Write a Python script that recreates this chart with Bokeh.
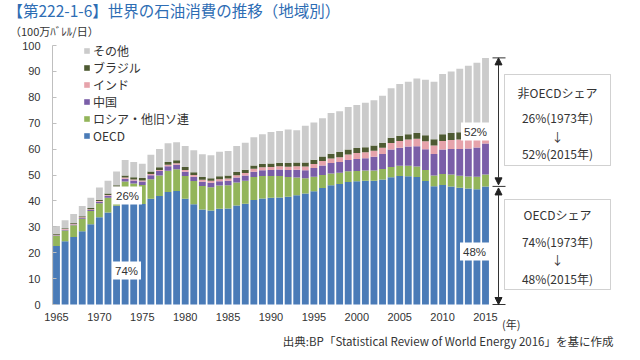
from bokeh.plotting import figure
from bokeh.models import (ColumnDataSource, Legend, LegendItem, Label, BoxAnnotation,
                          Arrow, NormalHead, FixedTicker, Range1d, LinearAxis, Title)
from bokeh.embed import file_html
from bokeh.resources import INLINE

years = list(range(1965, 2016))
oecd = [22.6, 24.4, 26.1, 28.3, 31.0, 33.7, 35.5, 38.1, 41.0, 39.8,
        38.8, 40.8, 41.9, 43.4, 43.8, 40.8, 38.7, 36.7, 36.3, 37.0,
        37.1, 38.2, 38.9, 40.3, 40.9, 41.2, 41.3, 41.6, 42.2, 42.9,
        43.7, 45.0, 46.0, 46.5, 47.3, 47.6, 47.8, 47.8, 48.3, 49.1,
        49.6, 49.5, 49.2, 47.7, 45.7, 46.1, 45.6, 45.1, 44.8, 44.5, 45.6]
fsu = [3.9, 4.2, 4.5, 4.8, 5.1, 5.4, 5.7, 6.1, 6.5, 6.9,
       7.3, 7.6, 7.9, 8.2, 8.4, 8.8, 9.0, 9.1, 9.0, 8.9,
       8.9, 8.9, 8.9, 8.9, 8.7, 8.4, 8.3, 7.6, 6.8, 5.8,
       5.6, 5.0, 4.6, 4.4, 4.1, 3.9, 3.9, 3.9, 4.0, 4.0,
       4.0, 4.1, 4.1, 4.2, 4.1, 4.3, 4.6, 4.6, 4.6, 4.8, 4.6]
china = [0.22, 0.27, 0.27, 0.3, 0.4, 0.55, 0.75, 0.85, 1.1, 1.2,
         1.4, 1.5, 1.7, 1.8, 1.8, 1.7, 1.6, 1.6, 1.7, 1.7,
         1.8, 1.9, 2.0, 2.1, 2.2, 2.3, 2.5, 2.7, 3.0, 3.1,
         3.4, 3.7, 4.0, 4.1, 4.4, 4.7, 4.8, 5.3, 5.8, 6.7,
         6.9, 7.4, 7.8, 8.0, 8.3, 9.4, 9.8, 10.3, 10.8, 11.3, 12.0]
india = [0.25, 0.26, 0.27, 0.29, 0.31, 0.33, 0.36, 0.38, 0.4, 0.4,
         0.42, 0.45, 0.47, 0.51, 0.56, 0.64, 0.67, 0.72, 0.75, 0.8,
         0.86, 0.93, 0.99, 1.07, 1.15, 1.21, 1.25, 1.31, 1.35, 1.45,
         1.58, 1.7, 1.8, 1.9, 2.1, 2.26, 2.28, 2.37, 2.43, 2.6,
         2.6, 2.7, 2.9, 3.1, 3.3, 3.3, 3.5, 3.7, 3.7, 3.8, 4.16]
brazil = [0.31, 0.33, 0.36, 0.41, 0.45, 0.5, 0.56, 0.64, 0.77, 0.83,
          0.88, 0.96, 0.99, 1.08, 1.16, 1.15, 1.08, 1.08, 1.04, 1.07,
          1.12, 1.23, 1.26, 1.28, 1.31, 1.33, 1.38, 1.42, 1.47, 1.53,
          1.62, 1.74, 1.84, 1.94, 1.96, 1.95, 1.98, 1.98, 1.93, 1.97,
          2.02, 2.06, 2.2, 2.36, 2.39, 2.6, 2.7, 2.8, 3.0, 3.2, 3.16]
other = [3.0, 3.1, 3.4, 3.9, 4.0, 4.7, 4.9, 5.3, 6.0, 5.9,
         5.5, 6.5, 7.1, 7.3, 6.9, 8.1, 8.55, 8.8, 8.8, 9.5,
         9.5, 10.0, 10.4, 10.9, 11.5, 12.2, 12.3, 12.9, 12.5, 14.2,
         14.4, 14.8, 15.7, 15.8, 16.4, 16.6, 17.1, 17.5, 18.1, 19.1,
         20.0, 20.2, 21.1, 21.4, 22.2, 23.3, 23.8, 24.5, 25.3, 25.7, 25.7]

series_keys = ["oecd", "fsu", "china", "india", "brazil", "other"]
series_names = ["OECD", "ロシア・他旧ソ連", "中国", "インド", "ブラジル", "その他"]
colors = ["#4a7bb7", "#93b55a", "#7a5ea8", "#e6a3ab", "#4e5a32", "#cbcbcb"]
x_tick_years = [1965, 1970, 1975, 1980, 1985, 1990, 1995, 2000, 2005, 2010, 2015]
y_ticks = [0, 10, 20, 30, 40, 50, 60, 70, 80, 90, 100]

title_text = "【第222-1-6】世界の石油消費の推移（地域別）"
unit_text = "（100万ﾊﾞﾚﾙ/日）"
year_unit_text = "(年)"
source_text = "出典:BP「Statistical Review of World Energy 2016」を基に作成"
share_labels = ["26%", "74%", "52%", "48%"]
box_upper = ["非OECDシェア", "26%(1973年)", "↓", "52%(2015年)"]
box_lower = ["OECDシェア", "74%(1973年)", "↓", "48%(2015年)"]

JP = "Noto Sans CJK JP"
TXT = "#333333"
FRAME_BOTTOM = 312   # page pixel of the frame's bottom edge

# layout helpers: page pixel -> data coordinates
def dx(px):
    return 1965 + (px - 56) / 8.58

def dy(py):
    return (304 - py) / 2.59

data = dict(year=years, oecd=oecd, fsu=fsu, china=china, india=india,
            brazil=brazil, other=other)
source = ColumnDataSource(data)

p = figure(width=640, height=360, output_backend="svg", toolbar_location=None,
           title_location=None, y_axis_location=None,
           x_range=Range1d(dx(0), dx(612)), y_range=Range1d(dy(FRAME_BOTTOM), dy(0)),
           min_border_left=0, min_border_right=28, min_border_top=0,
           min_border_bottom=360 - FRAME_BOTTOM)
p.outline_line_color = None
p.xgrid.visible = False
p.ygrid.visible = False
p.background_fill_color = "white"

rends = p.vbar_stack(series_keys, x="year", width=0.8, color=colors,
                     line_color=None, source=source)

items = [LegendItem(label=n, renderers=[r]) for n, r in zip(series_names, rends)]
legend = Legend(items=list(reversed(items)), location=(83, FRAME_BOTTOM - 144),
                glyph_width=7, glyph_height=7, label_height=13, spacing=0,
                padding=0, margin=0, label_standoff=3,
                label_text_font=JP, label_text_font_size="12px",
                label_text_color=TXT, background_fill_alpha=0,
                border_line_alpha=0)
p.add_layout(legend, "center")

# x axis
p.xaxis.ticker = FixedTicker(ticks=x_tick_years)
p.xaxis.axis_line_alpha = 0
p.xaxis.major_tick_line_alpha = 0
p.xaxis.minor_tick_line_alpha = 0
p.xaxis.major_label_standoff = -6
p.xaxis.major_label_text_font = "Liberation Sans"
p.xaxis.major_label_text_font_size = "11px"
p.xaxis.major_label_text_color = TXT

# y axis drawn at a fixed location inside the frame
yaxis = LinearAxis(ticker=FixedTicker(ticks=y_ticks), bounds=(0, 100),
                   fixed_location=dx(52),
                   axis_line_color="#bfbfbf", major_tick_line_color="#bfbfbf",
                   major_tick_in=4, major_tick_out=0, minor_tick_line_alpha=0,
                   major_label_standoff=12, major_label_text_font="Liberation Sans",
                   major_label_text_font_size="11px", major_label_text_color=TXT)
p.add_layout(yaxis, "left")

# "(年)" as a second bottom axis label
unit_axis = LinearAxis(ticker=FixedTicker(ticks=[2018]),
                       major_label_overrides={2018: year_unit_text},
                       axis_line_alpha=0, major_tick_line_alpha=0,
                       minor_tick_line_alpha=0, major_label_standoff=-14,
                       major_label_text_font=JP, major_label_text_font_size="11px",
                       major_label_text_color=TXT)
p.add_layout(unit_axis, "below")

p.add_layout(Title(text=source_text, align="right", offset=-1, standoff=-8,
                   text_font=JP, text_font_size="11.5px", text_color=TXT,
                   text_font_style="normal"), "below")

# title and unit
p.add_layout(Label(x=dx(7), y=dy(9.5), text=title_text, text_font=JP,
                   text_font_size="15.5px", text_color="#2e6db4",
                   text_baseline="middle", text_align="left"))
p.add_layout(Label(x=dx(9.5), y=dy(30), text=unit_text, text_font=JP,
                   text_font_size="11px", text_color=TXT,
                   text_baseline="middle", text_align="left"))

# share labels on bars
for t, (px, py) in zip(share_labels, [(127, 195), (126, 270), (475, 131), (474, 251)]):
    p.add_layout(Label(x=dx(px), y=dy(py), text=t, text_font="Liberation Sans",
                       text_font_size="11.5px", text_color=TXT,
                       text_baseline="middle", text_align="center",
                       background_fill_color="white", padding=3))

# right side arrows
ax = dx(498)
tot_last = oecd[-1] + fsu[-1] + china[-1] + india[-1] + brazil[-1] + other[-1]
oecd_last = oecd[-1]
p.segment(x0=[dx(492)] * 3, x1=[dx(505)] * 3, y0=[tot_last, oecd_last, 0],
          y1=[tot_last, oecd_last, 0], line_color="#333333", line_width=1)
for y0, y1 in [(oecd_last + 0.6, tot_last), (0, oecd_last - 0.6)]:
    p.add_layout(Arrow(x_start=ax, y_start=y0, x_end=ax, y_end=y1,
                       line_color="#333333", line_width=1,
                       start=NormalHead(size=7, fill_color="#222222", line_color="#222222"),
                       end=NormalHead(size=7, fill_color="#222222", line_color="#222222")))

# share boxes
for top, bot in [(74, 165), (199, 289)]:
    p.add_layout(BoxAnnotation(left=dx(504), right=dx(610), top=dy(top), bottom=dy(bot),
                               fill_alpha=0, line_color="#666666", line_width=1))
for texts, ys in [(box_upper, [92, 117, 136, 153]), (box_lower, [214, 241, 259, 278])]:
    for t, py in zip(texts, ys):
        p.add_layout(Label(x=dx(557), y=dy(py), text=t, text_font=JP,
                           text_font_size="12px", text_color=TXT,
                           text_baseline="middle", text_align="center"))

open("out.html", "w").write(file_html(p, INLINE))
